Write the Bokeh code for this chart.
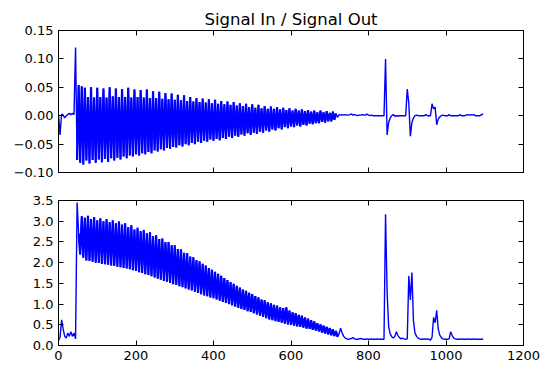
from bokeh.plotting import figure
from bokeh.layouts import column
from bokeh.models import Range1d, LinearAxis, FixedTicker, CustomJSTickFormatter
from bokeh.embed import file_html
from bokeh.resources import INLINE

STEP = 4  # sample spacing along x

# ---------------- Signal In (top) ----------------
in_pre = [0.002, -0.034, 0.003, 0.001, -0.004, 0.0, 0.002, 0.004, 0.002, 0.004, 0.002, 0.12]
in_lo = [-0.078, -0.083, -0.086, -0.079, -0.084, -0.078, -0.083, -0.077, -0.082, -0.076,
         -0.081, -0.075, -0.079, -0.074, -0.077, -0.072, -0.075, -0.070, -0.072, -0.068,
         -0.070, -0.066, -0.068, -0.064, -0.066, -0.061, -0.063, -0.059, -0.061, -0.057,
         -0.058, -0.055, -0.056, -0.052, -0.054, -0.050, -0.052, -0.048, -0.050, -0.046,
         -0.048, -0.044, -0.046, -0.042, -0.044, -0.041, -0.043, -0.039, -0.041, -0.037,
         -0.039, -0.035, -0.037, -0.033, -0.035, -0.031, -0.034, -0.030, -0.032, -0.028,
         -0.030, -0.026, -0.028, -0.024, -0.026, -0.022, -0.024, -0.020, -0.022, -0.019,
         -0.020, -0.017, -0.019, -0.016, -0.017, -0.014, -0.015, -0.013, -0.013, -0.011,
         -0.012, -0.010, -0.010, -0.007]
in_hi = [0.054, 0.052, 0.049, 0.033, 0.050, 0.032, 0.049, 0.033, 0.048, 0.032,
         0.050, 0.034, 0.048, 0.033, 0.047, 0.033, 0.049, 0.032, 0.046, 0.033,
         0.045, 0.032, 0.046, 0.031, 0.043, 0.031, 0.042, 0.030, 0.040, 0.029,
         0.039, 0.028, 0.037, 0.027, 0.036, 0.026, 0.033, 0.025, 0.031, 0.024,
         0.030, 0.023, 0.029, 0.022, 0.028, 0.021, 0.026, 0.020, 0.025, 0.019,
         0.024, 0.018, 0.022, 0.017, 0.021, 0.015, 0.020, 0.014, 0.019, 0.013,
         0.017, 0.012, 0.016, 0.012, 0.015, 0.011, 0.014, 0.010, 0.013, 0.009,
         0.012, 0.009, 0.011, 0.008, 0.010, 0.007, 0.009, 0.006, 0.009, 0.006,
         0.008, 0.005, 0.007, 0.004]
in_post = [-0.003,
           0.002, 0.001, 0.002, 0.001, 0.002, 0.001, 0.001, 0.002, 0.003, 0.001,
           0.002, 0.001, 0.0, 0.001, 0.001, 0.002, 0.001, 0.001, 0.003, 0.001,
           0.0, 0.001, 0.0, 0.0, 0.0, 0.0, 0.0, 0.0, 0.0, 0.0,
           0.100, -0.034, -0.012, -0.004, 0.0, 0.002, -0.001, 0.0, -0.001, 0.0,
           0.0, 0.0, 0.0, 0.0, 0.047, 0.022, -0.036, -0.012, -0.004, 0.0,
           0.001, 0.0, 0.0, 0.0, 0.0, 0.0, 0.002, 0.0, 0.0, 0.0,
           0.021, 0.012, 0.015, -0.016, -0.006, -0.002, 0.0, 0.001, 0.0, 0.0,
           0.0, 0.002, 0.0, 0.0, 0.0, 0.0, 0.0, 0.0, 0.002, 0.0,
           0.0, 0.0, 0.001, 0.002, 0.001, 0.002, 0.001, 0.002, 0.0, 0.0,
           0.0, 0.0, 0.002, 0.003]

# ---------------- Signal Out (bottom) ----------------
out_pre = [0.12, 0.2, 0.62, 0.4, 0.22, 0.18, 0.3, 0.22, 0.33, 0.22, 0.3, 0.16, 3.45]
out_hi = [2.70, 3.12, 3.08, 3.13, 3.05, 3.10, 3.02, 3.07, 3.00, 3.05,
          2.98, 3.02, 2.95, 2.99, 2.92, 2.95, 2.86, 2.90, 2.80, 2.84,
          2.76, 2.79, 2.71, 2.73, 2.64, 2.66, 2.57, 2.58, 2.50, 2.50,
          2.42, 2.42, 2.33, 2.32, 2.24, 2.23, 2.15, 2.13, 2.06, 2.03,
          1.97, 1.93, 1.87, 1.83, 1.78, 1.73, 1.68, 1.63, 1.58, 1.53,
          1.49, 1.44, 1.40, 1.35, 1.32, 1.27, 1.24, 1.19, 1.16, 1.11,
          1.09, 1.04, 1.02, 0.98, 0.96, 0.92, 0.90, 0.92, 0.84, 0.80,
          0.78, 0.74, 0.72, 0.68, 0.65, 0.61, 0.58, 0.54, 0.51, 0.48,
          0.45, 0.42, 0.39, 0.35]
out_lo = [2.20, 2.12, 2.05, 2.04, 2.02, 2.00, 1.99, 1.97, 1.96, 1.95,
          1.93, 1.92, 1.90, 1.89, 1.87, 1.86, 1.84, 1.82, 1.80, 1.77,
          1.75, 1.72, 1.70, 1.67, 1.64, 1.61, 1.59, 1.56, 1.54, 1.51,
          1.48, 1.46, 1.43, 1.41, 1.38, 1.35, 1.33, 1.30, 1.27, 1.24,
          1.21, 1.19, 1.16, 1.14, 1.11, 1.08, 1.05, 1.03, 1.00, 0.97,
          0.94, 0.91, 0.88, 0.86, 0.83, 0.81, 0.78, 0.75, 0.72, 0.69,
          0.66, 0.63, 0.61, 0.59, 0.57, 0.55, 0.53, 0.51, 0.50, 0.48,
          0.46, 0.45, 0.43, 0.41, 0.40, 0.38, 0.36, 0.34, 0.31, 0.29,
          0.27, 0.25, 0.23, 0.21]
out_post = [0.28, 0.42, 0.30, 0.22, 0.18, 0.16, 0.15, 0.16, 0.17, 0.19,
            0.16, 0.15, 0.15, 0.16, 0.17, 0.16, 0.15, 0.15, 0.16, 0.15,
            0.15, 0.16, 0.15, 0.15, 0.15, 0.16, 0.15, 0.15, 0.15, 0.15,
            3.17, 1.30, 0.45, 0.28, 0.21, 0.18, 0.22, 0.33, 0.24, 0.19,
            0.16, 0.18, 0.16, 0.15, 0.16, 1.68, 1.10, 1.76, 0.60, 0.30,
            0.22, 0.18, 0.16, 0.15, 0.15, 0.16, 0.15, 0.16, 0.15, 0.13,
            0.20, 0.68, 0.55, 0.85, 0.40, 0.25, 0.19, 0.16, 0.15, 0.15,
            0.15, 0.16, 0.33, 0.24, 0.18, 0.16, 0.15, 0.15, 0.15, 0.16,
            0.15, 0.15, 0.15, 0.16, 0.15, 0.15, 0.15, 0.16, 0.15, 0.15,
            0.15, 0.15, 0.15, 0.15]

x_ticks = [0, 200, 400, 600, 800, 1000, 1200]
in_ticks = [-0.10, -0.05, 0.0, 0.05, 0.10, 0.15]
out_ticks = [0.0, 0.5, 1.0, 1.5, 2.0, 2.5, 3.0, 3.5]

sig_in = in_pre + [v for pair in zip(in_lo, in_hi) for v in pair] + in_post
sig_out = out_pre + [v for pair in zip(out_hi, out_lo) for v in pair] + out_post
x_in = [STEP * i for i in range(len(sig_in))]
x_out = [STEP * i for i in range(len(sig_out))]

# index span of the dense oscillating band in each series
in_band = slice(len(in_pre), len(in_pre) + 2 * len(in_lo))
out_band = slice(len(out_pre), len(out_pre) + 2 * len(out_hi))

FONT = "DejaVu Sans"
BLUE = "#0000ff"


def style_axis(ax, ticks, decimals=None):
    ax.ticker = FixedTicker(ticks=ticks)
    ax.major_tick_in = 5
    ax.major_tick_out = 0
    ax.minor_tick_line_color = None
    ax.axis_line_color = "black"
    ax.axis_line_width = 1
    ax.major_tick_line_color = "black"
    ax.major_label_text_font = FONT
    if decimals is None:
        ax.major_label_text_font_size = "1px"
        ax.major_label_text_color = None
        ax.major_label_standoff = 0
    else:
        ax.major_label_text_color = "black"
        ax.major_label_text_font_size = "13px"
        ax.major_label_standoff = 5
        ax.formatter = CustomJSTickFormatter(
            code="return tick.toFixed(%d).replace('-', '\\u2212');" % decimals)


def make_fig(height, yr, yticks, ydec, show_x_labels, border_top, border_bottom, title=None):
    p = figure(width=542, height=height, output_backend="svg", toolbar_location=None,
               x_range=Range1d(0, 1200), y_range=Range1d(*yr),
               min_border_left=58, min_border_right=19,
               min_border_top=border_top, min_border_bottom=border_bottom,
               x_axis_location=None, y_axis_location=None, title=title)
    p.xgrid.grid_line_color = None
    p.ygrid.grid_line_color = None
    p.outline_line_color = "black"
    p.outline_line_width = 1
    p.background_fill_color = "white"
    p.border_fill_color = "white"
    bottom = LinearAxis(); style_axis(bottom, x_ticks, 0 if show_x_labels else None)
    top = LinearAxis(); style_axis(top, x_ticks, None)
    left = LinearAxis(); style_axis(left, yticks, ydec)
    right = LinearAxis(); style_axis(right, yticks, None)
    p.add_layout(bottom, "below")
    p.add_layout(top, "above")
    p.add_layout(left, "left")
    p.add_layout(right, "right")
    if title is not None:
        p.title.text_font = FONT
        p.title.text_font_size = "16.5px"
        p.title.text_font_style = "normal"
        p.title.align = "center"
        p.title.text_color = "black"
        p.title.standoff = 4
    return p


p1 = make_fig(186, (-0.10, 0.15), in_ticks, 2, False, 30, 14, title="Signal In / Signal Out")
p1.line(x_in, sig_in, line_color=BLUE, line_width=1.4)
p1.line(x_in[in_band], sig_in[in_band], line_color=BLUE, line_width=2.2)

p2 = make_fig(176, (0.0, 3.5), out_ticks, 1, True, 14, 0)
p2.line(x_out, sig_out, line_color=BLUE, line_width=1.4)
p2.line(x_out[out_band], sig_out[out_band], line_color=BLUE, line_width=2.2)

layout = column(p1, p2, spacing=0)

with open("out.html", "w") as f:
    f.write(file_html(layout, INLINE))
